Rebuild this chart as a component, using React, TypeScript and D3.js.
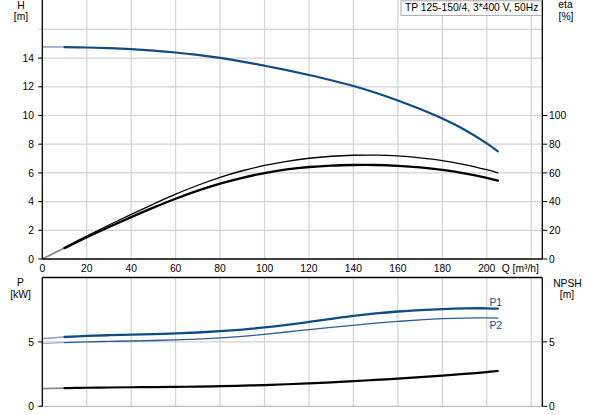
import React from "react";
import * as d3 from "d3";

const Q = [0, 10, 20, 30, 40, 50, 60, 70, 80, 90, 100, 110, 120, 130, 140, 150, 160, 170, 180, 190, 200, 205];
const H = [14.78, 14.77, 14.74, 14.69, 14.62, 14.52, 14.39, 14.22, 14.01, 13.76, 13.47, 13.16, 12.82, 12.46, 12.06, 11.59, 11.05, 10.45, 9.79, 9.01, 8.06, 7.5];
const ETA1 = [0, 8.0, 16.0, 23.7, 31.1, 38.3, 45.2, 51.4, 56.9, 61.5, 65.2, 68.1, 70.2, 71.6, 72.3, 72.4, 71.8, 70.5, 68.6, 65.8, 62.2, 60.1];
const ETA2 = [0, 7.6, 15.1, 22.3, 29.2, 35.8, 42.0, 47.6, 52.5, 56.6, 59.9, 62.4, 64.1, 65.1, 65.5, 65.5, 64.9, 63.8, 62.1, 59.7, 56.6, 54.6];
const P1 = [5.26, 5.38, 5.46, 5.52, 5.57, 5.61, 5.66, 5.73, 5.83, 5.96, 6.12, 6.32, 6.55, 6.79, 7.02, 7.21, 7.36, 7.47, 7.55, 7.6, 7.61, 7.58];
const P2 = [4.87, 4.95, 5.0, 5.04, 5.07, 5.11, 5.16, 5.22, 5.31, 5.43, 5.59, 5.77, 5.96, 6.13, 6.29, 6.45, 6.59, 6.71, 6.8, 6.85, 6.86, 6.84];
const NPSH = [1.37, 1.41, 1.44, 1.46, 1.48, 1.49, 1.51, 1.53, 1.56, 1.6, 1.65, 1.71, 1.78, 1.86, 1.95, 2.05, 2.15, 2.26, 2.38, 2.51, 2.66, 2.74];

const X_TICKS = [0, 20, 40, 60, 80, 100, 120, 140, 160, 180, 200];
const X_GRID = [20, 40, 60, 80, 100, 120, 140, 160, 180, 200, 220];
const H_TICKS = [0, 2, 4, 6, 8, 10, 12, 14];
const H_GRID = [2, 4, 6, 8, 10, 12, 14, 16];
const ETA_TICKS = [0, 20, 40, 60, 80, 100];
const P_TICKS = [0, 5];
const NPSH_TICKS = [0, 5];
const TITLE = "TP 125-150/4, 3*400 V, 50Hz";

const BLUE = "#0f4c86";
const GRID = "#d2d2d2";
const FONT = "'Liberation Sans', Arial, sans-serif";
const FS = 10.3;

export default function App() {
  const L = 42.3, R = 542.3;
  const x = d3.scaleLinear().domain([0, 225]).range([L, R]);
  const yH = d3.scaleLinear().domain([0, 16]).range([259, 29.4]);
  const yE = d3.scaleLinear().domain([0, 160]).range([259, 29.4]);
  const yP = d3.scaleLinear().domain([0, 10]).range([406.3, 277.5]);

  const mk = (vals: number[], y: d3.ScaleLinear<number, number>, from: number, to: number) => {
    const pts: [number, number][] = Q.map((q, i) => [q, vals[i]] as [number, number]).filter(([q]) => q >= from && q <= to);
    return d3.line<[number, number]>().x(d => x(d[0])).y(d => y(d[1])).curve(d3.curveCatmullRom.alpha(0.5))(pts) || "";
  };

  const curve = (vals: number[], y: any, color: string, light: string, w: number, key: string) => (
    <g key={key}>
      <path d={mk(vals, y, 0, 10)} fill="none" stroke={light} strokeWidth={Math.max(1, w - 0.6)} />
      <path d={mk(vals, y, 10, 205)} fill="none" stroke={color} strokeWidth={w} strokeLinecap="round" />
    </g>
  );

  const txt = { fontFamily: FONT, fontSize: FS, fill: "#000" } as const;

  return (
    <svg width={593} height={415} style={{ position: "absolute", left: 0, top: 0, background: "#fff" }}>
      <rect x={0} y={0} width={593} height={415} fill="#fff" />
      {/* top grid */}
      {X_GRID.map(q => (
        <line key={"vg" + q} x1={x(q)} x2={x(q)} y1={0} y2={259} stroke={GRID} strokeWidth={1.2} />
      ))}
      {H_GRID.map(h => (
        <line key={"hg" + h} x1={L - 4} x2={R} y1={yH(h)} y2={yH(h)} stroke={GRID} strokeWidth={1.2} />
      ))}
      {/* bottom grid */}
      {X_GRID.map(q => (
        <line key={"vgb" + q} x1={x(q)} x2={x(q)} y1={277.5} y2={406.3} stroke={GRID} strokeWidth={1.2} />
      ))}
      <line x1={L} x2={R} y1={yP(5)} y2={yP(5)} stroke={GRID} strokeWidth={1.2} />
      <line x1={L - 4} x2={R} y1={yP(0)} y2={yP(0)} stroke="#bdbdbd" strokeWidth={1.3} />

      {/* curves top */}
      {curve(ETA1, yE, "#000", "#8a8a8a", 1.3, "e1")}
      {curve(ETA2, yE, "#000", "#8a8a8a", 2.3, "e2")}
      {curve(H, yH, BLUE, "#8fa3c2", 2.2, "h")}
      {/* curves bottom */}
      {curve(P1, yP, BLUE, "#8fa3c2", 2.3, "p1")}
      {curve(P2, yP, "#2b5d93", "#8fa3c2", 1.3, "p2")}
      {curve(NPSH, yP, "#000", "#8a8a8a", 2.2, "n")}

      {/* top axes */}
      <line x1={L} x2={L} y1={0} y2={259} stroke="#000" strokeWidth={1.3} />
      <line x1={R} x2={R} y1={0} y2={259} stroke="#000" strokeWidth={1.3} />
      <line x1={L} x2={R} y1={259} y2={259} stroke="#000" strokeWidth={1.3} />
      {H_TICKS.map(h => (
        <g key={"ht" + h}>
          <line x1={L - 4} x2={L} y1={yH(h)} y2={yH(h)} stroke="#000" />
          <text x={34} y={yH(h)} dy="0.35em" textAnchor="end" {...txt}>{h}</text>
        </g>
      ))}
      {ETA_TICKS.map(e => (
        <g key={"et" + e}>
          <line x1={R} x2={R + 5} y1={yE(e)} y2={yE(e)} stroke="#000" />
          <text x={549} y={yE(e)} dy="0.35em" textAnchor="start" {...txt}>{e}</text>
        </g>
      ))}
      {X_TICKS.map(q => (
        <text key={"xt" + q} x={x(q)} y={272} textAnchor="middle" {...txt}>{q}</text>
      ))}
      <text x={501.7} y={272} {...txt}>Q [m³/h]</text>

      {/* bottom axes */}
      <line x1={L} x2={L} y1={277.5} y2={406.3} stroke="#000" strokeWidth={1.3} />
      <line x1={R} x2={R} y1={277.5} y2={406.3} stroke="#000" strokeWidth={1.3} />
      <line x1={L} x2={R} y1={277.5} y2={277.5} stroke="#000" strokeWidth={1.3} />
      {P_TICKS.map(p => (
        <g key={"pt" + p}>
          <line x1={L - 4} x2={L} y1={yP(p)} y2={yP(p)} stroke="#000" />
          <text x={34} y={yP(p)} dy="0.35em" textAnchor="end" {...txt}>{p}</text>
        </g>
      ))}
      {NPSH_TICKS.map(p => (
        <g key={"nt" + p}>
          <line x1={R} x2={R + 5} y1={yP(p)} y2={yP(p)} stroke="#000" />
          <text x={549} y={yP(p)} dy="0.35em" textAnchor="start" {...txt}>{p}</text>
        </g>
      ))}

      {/* axis titles */}
      <text x={21} y={8.8} textAnchor="middle" {...txt}>H</text>
      <text x={21} y={20} textAnchor="middle" {...txt}>[m]</text>
      <text x={565.5} y={7.6} textAnchor="middle" {...txt}>eta</text>
      <text x={566} y={19.8} textAnchor="middle" {...txt}>[%]</text>
      <text x={20.5} y={286.3} textAnchor="middle" {...txt}>P</text>
      <text x={20.5} y={297.5} textAnchor="middle" {...txt}>[kW]</text>
      <text x={567.5} y={286.5} textAnchor="middle" {...txt}>NPSH</text>
      <text x={567} y={297.5} textAnchor="middle" {...txt}>[m]</text>

      {/* series labels */}
      <text x={489.5} y={306} {...txt} fill={BLUE}>P1</text>
      <text x={489.5} y={329} {...txt} fill={BLUE}>P2</text>

      {/* title box */}
      <rect x={401} y={0.8} width={140.5} height={14.6} fill="#fff" stroke="#a8a8a8" strokeWidth={1} />
      <text x={405} y={11.4} {...txt}>{TITLE}</text>
    </svg>
  );
}
